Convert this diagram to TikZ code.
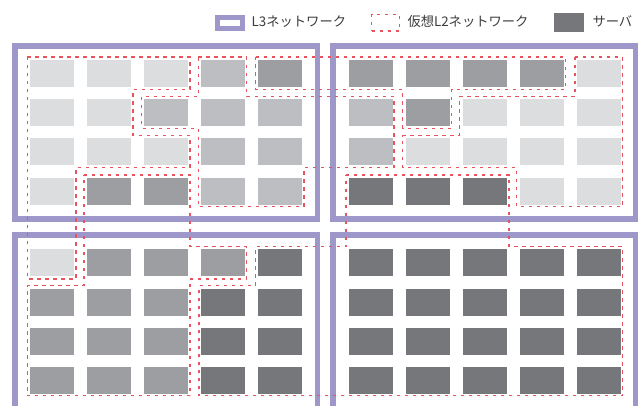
\documentclass[tikz,border=0pt]{standalone}
\usepackage{fontspec}
\newfontfamily\jp{Noto Sans CJK JP}
\definecolor{l3col}{RGB}{158,151,201}
\definecolor{l2col}{RGB}{230,84,96}
\definecolor{srvL}{RGB}{220,221,222}
\definecolor{srvS}{RGB}{189,190,193}
\definecolor{srvM}{RGB}{157,158,162}
\definecolor{srvD}{RGB}{118,119,123}
\definecolor{txt}{RGB}{60,60,60}
\tikzset{
  server/.style={rectangle,anchor=north west,minimum width=44pt,minimum height=26.7pt,inner sep=0pt,outer sep=0pt,draw=none},
  l3box/.style={draw=l3col,line width=5.5pt},
  l2net/.style={draw=l2col,line width=1.4pt,dash pattern=on 3.3pt off 4.7pt},
  legtext/.style={anchor=base west,inner sep=0pt,text=txt,font=\jp\fontsize{13.3}{15}\selectfont}
}
\newcommand\srvrow[4]{%
  \foreach \c [count=\k] in {#4} {\node[server,fill=srv\c] (#1-\k) at ({#2+57*(\k-1)},#3) {};}}
\begin{document}
\begin{tikzpicture}[x=1pt,y=-1pt]
\useasboundingbox (0,0) rectangle (640,405);
\clip (0,0) rectangle (640,405);
\fill[white] (0,0) rectangle (640,405);
% servers top-left
\srvrow{tl1}{30}{60}{L,L,L,S,M}
\srvrow{tl2}{30}{99}{L,L,S,S,S}
\srvrow{tl3}{30}{138}{L,L,L,S,S}
\srvrow{tl4}{30}{178}{L,M,M,S,S}
% top-right
\srvrow{tr1}{349}{60}{M,M,M,M,L}
\srvrow{tr2}{349}{99}{S,M,L,L,L}
\srvrow{tr3}{349}{138}{S,L,L,L,L}
\srvrow{tr4}{349}{178}{D,D,D,L,L}
% bottom-left
\srvrow{bl1}{30}{249}{L,M,M,M,D}
\srvrow{bl2}{30}{289}{M,M,M,D,D}
\srvrow{bl3}{30}{328}{M,M,M,D,D}
\srvrow{bl4}{30}{367}{M,M,M,D,D}
% bottom-right
\srvrow{br1}{349}{249}{D,D,D,D,D}
\srvrow{br2}{349}{289}{D,D,D,D,D}
\srvrow{br3}{349}{328}{D,D,D,D,D}
\srvrow{br4}{349}{367}{D,D,D,D,D}
% L3 networks
\draw[l3box] (14.75,45.75) rectangle (317.25,218.75);
\draw[l3box] (332.75,45.75) rectangle (635.25,218.75);
\draw[l3box] (14.75,234.75) rectangle (317.25,430);
\draw[l3box] (332.75,234.75) rectangle (635.25,430);
% virtual L2 networks
\draw[l2net] (27.3,57) -- (190,57) -- (190,89.3) -- (133,89.3) -- (133,135.7) -- (190,135.7) -- (190,167.7) -- (76,167.7) -- (76,279) -- (27.3,279) -- cycle;
\draw[l2net] (84,175) -- (190,175) -- (190,246.7) -- (246.7,246.7) -- (246.7,279) -- (190,279) -- (190,395.7) -- (27.3,395.7) -- (27.3,285.7) -- (84,285.7) -- cycle;
\draw[l2net] (255.7,57) -- (565.7,57) -- (565.7,89.3) -- (451.7,89.3) -- (451.7,128.3) -- (402.7,128.3) -- (402.7,89.3) -- (255.7,89.3) -- cycle;
\draw[l2net] (198.3,57) -- (246.7,57) -- (246.7,96.7) -- (394,96.7) -- (394,167.7) -- (304,167.7) -- (304,206.7) -- (198.3,206.7) -- (198.3,128.3) -- (141.7,128.3) -- (141.7,96.7) -- (198.3,96.7) -- cycle;
\draw[l2net] (575,57) -- (622.7,57) -- (622.7,206.7) -- (516.7,206.7) -- (516.7,167.7) -- (402.7,167.7) -- (402.7,135.7) -- (459.3,135.7) -- (459.3,96.7) -- (575,96.7) -- cycle;
\draw[l2net] (346,175) -- (509,175) -- (509,246.7) -- (622.7,246.7) -- (622.7,395.7) -- (199,395.7) -- (199,285.7) -- (255.7,285.7) -- (255.7,246.7) -- (346,246.7) -- cycle;
% legend
\node[draw=l3col,line width=5pt,minimum width=25pt,minimum height=11.6pt,inner sep=0pt,outer sep=0pt] (legl3) at (230,23) {};
\node[legtext] (legl3t) at (251.5,26.5) {L3ネットワーク};
\node[l2net,minimum width=28pt,minimum height=16.5pt,inner sep=0pt,outer sep=0pt] (legl2) at (385.5,22.7) {};
\node[legtext] (legl2t) at (407.3,26.5) {仮想L2ネットワーク};
\node[fill=srvD,minimum width=29.7pt,minimum height=18.4pt,inner sep=0pt,outer sep=0pt] (legsrv) at (569.2,22.5) {};
\node[legtext] (legsrvt) at (592.3,26.5) {サーバ};
\end{tikzpicture}
\end{document}
